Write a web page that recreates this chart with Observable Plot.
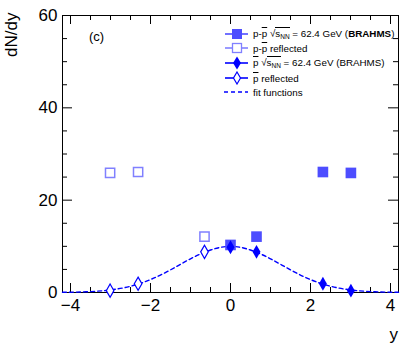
<!DOCTYPE html>
<html><head><meta charset="utf-8">
<script src="https://cdn.jsdelivr.net/npm/d3@7"></script>
<script src="https://cdn.jsdelivr.net/npm/@observablehq/plot@0.6"></script>
<style>
body{margin:0;background:#fff;}
#wrap{position:relative;width:411px;height:348px;font-family:"Liberation Sans",Arial,Helvetica,sans-serif;color:#000;overflow:hidden;}
#wrap svg.plot{position:absolute;left:0;top:0;}
.ov{text-decoration:overline;}
.rt{border-top:1px solid #000;padding-top:0px;}
.leg{position:absolute;left:224px;height:14px;display:flex;align-items:center;font-size:9.8px;white-space:nowrap;}
.leg svg{margin-right:4px;}
.ttl{position:absolute;font-size:17px;line-height:1;white-space:nowrap;}
sub{font-size:6.5px;vertical-align:-2px;}
</style></head><body><div id="wrap"></div>
<script>
// rapidity values
const yBrahms = [0, 0.65, 2.31, 3.01];
const yReflected = [-3.01, -2.31, -0.65];
// p - pbar net protons
const netP = [10.3, 12.1, 26.1, 25.9];
const netPRefl = [25.9, 26.1, 12.1];
// anti-protons
const pbar = [9.8, 8.8, 1.9, 0.4];
const pbarRefl = [0.4, 1.9, 8.8];
// fit function samples
const fitY = [-4.2, -4, -3.5, -3, -2.5, -2, -1.5, -1, -0.5, 0, 0.5, 1, 1.5, 2, 2.5, 3, 3.5, 4, 4.2];
const fitV = [0.04, 0.06, 0.2, 0.56, 1.35, 2.8, 4.9, 7.3, 9.2, 10, 9.2, 7.3, 4.9, 2.8, 1.35, 0.56, 0.2, 0.06, 0.04];
// ticks
const xMajor = [-4, -2, 0, 2, 4];
const xMinor = [-3.5, -3, -2.5, -1.5, -1, -0.5, 0.5, 1, 1.5, 2.5, 3, 3.5];
const yMajor = [0, 20, 40, 60];
const yMinor = [5, 10, 15, 25, 30, 35, 45, 50, 55];

const W = 411, H = 348, mL = 62, mR = 13, mT = 15, mB = 56;
const iW = W - mL - mR, iH = H - mT - mB;

const toRows = (xs, vs) => xs.map((x, i) => ({x, v: vs[i]}));
const cNetP = "#4d4dff", cNetPRefl = "#8080ff", cPbar = "#0000ff";

const chart = Plot.plot({
  width: W, height: H,
  marginLeft: mL, marginRight: mR, marginTop: mT, marginBottom: mB,
  style: {fontFamily: '"Liberation Sans", Arial, Helvetica, sans-serif', fontSize: "17px", color: "#000", background: "transparent"},
  x: {domain: [-4.2, 4.2]},
  y: {domain: [0, 60]},
  marks: [
    // bottom/top ticks
    Plot.tickX(xMajor, {x: d => d, insetTop: iH - 9, stroke: "#000"}),
    Plot.tickX(xMinor, {x: d => d, insetTop: iH - 5, stroke: "#000"}),
    Plot.tickX(xMajor, {x: d => d, insetBottom: iH - 9, stroke: "#000"}),
    Plot.tickX(xMinor, {x: d => d, insetBottom: iH - 5, stroke: "#000"}),
    // left/right ticks
    Plot.tickY(yMajor, {y: d => d, insetRight: iW - 10, stroke: "#000"}),
    Plot.tickY(yMinor, {y: d => d, insetRight: iW - 5, stroke: "#000"}),
    Plot.tickY(yMajor, {y: d => d, insetLeft: iW - 10, stroke: "#000"}),
    Plot.tickY(yMinor, {y: d => d, insetLeft: iW - 5, stroke: "#000"}),
    Plot.axisX({ticks: xMajor, tickSize: 0, tickPadding: 6, label: null, fontSize: 17}),
    Plot.axisY({ticks: yMajor, tickSize: 0, tickPadding: 5, label: null, fontSize: 17}),
    Plot.frame({stroke: "#000"}),
    // fit functions
    Plot.line(toRows(fitY, fitV), {x: "x", y: "v", stroke: cPbar, strokeWidth: 1.4, strokeDasharray: "4,3", curve: "natural"}),
    // net protons
    Plot.dot(toRows(yReflected, netPRefl), {x: "x", y: "v", symbol: "square", r: 5.2, stroke: cNetPRefl, strokeWidth: 1.5, fill: "none"}),
    Plot.dot(toRows(yBrahms, netP), {x: "x", y: "v", symbol: "square", r: 6, fill: cNetP, stroke: "none"}),
    // anti-protons
    Plot.dot(toRows(yReflected, pbarRefl), {x: "x", y: "v", symbol: "diamond", r: 4, stroke: cPbar, strokeWidth: 1.2, fill: "white"}),
    Plot.dot(toRows(yBrahms, pbar), {x: "x", y: "v", symbol: "diamond", r: 4.2, fill: cPbar, stroke: "none"})
  ]
});
chart.classList.add("plot");
const wrap = document.getElementById("wrap");
wrap.appendChild(chart);

function marker(kind, color) {
  let m = "";
  if (kind === "fsq") m = `<rect x="8" y="2" width="10" height="10" fill="${color}"/>`;
  if (kind === "osq") m = `<rect x="8.5" y="2.5" width="9" height="9" fill="white" stroke="${color}" stroke-width="1.3"/>`;
  if (kind === "fdi") m = `<path d="M13,0.5 L17,7 L13,13.5 L9,7Z" fill="${color}"/>`;
  if (kind === "odi") m = `<path d="M13,1 L16.5,7 L13,13 L9.5,7Z" fill="white" stroke="${color}" stroke-width="1.2"/>`;
  const line = kind === "dash"
    ? `<line x1="0" y1="7" x2="24" y2="7" stroke="${color}" stroke-width="1.4" stroke-dasharray="4,3"/>`
    : `<line x1="1" y1="7" x2="24" y2="7" stroke="${color}" stroke-width="1.6"/>`;
  return `<svg width="25" height="14" viewBox="0 0 25 14">${line}${m}</svg>`;
}
const rootS = `<span class="rt">s<sub>NN</sub></span>`;
const legendRows = [
  {c: 34, html: marker("fsq", cNetP) + `<span>p-<span class="ov">p</span> √${rootS} = 62.4 GeV (<b>BRAHMS</b>)</span>`},
  {c: 48, html: marker("osq", cNetPRefl) + `<span>p-<span class="ov">p</span> reflected</span>`},
  {c: 63, html: marker("fdi", cPbar) + `<span><span class="ov">p</span> √${rootS} = 62.4 GeV (BRAHMS)</span>`},
  {c: 78, html: marker("odi", cPbar) + `<span><span class="ov">p</span> reflected</span>`},
  {c: 92, html: marker("dash", cPbar) + `<span>fit functions</span>`}
];
for (const r of legendRows) {
  const d = document.createElement("div");
  d.className = "leg";
  d.style.top = (r.c - 7) + "px";
  d.innerHTML = r.html;
  wrap.appendChild(d);
}
function label(text, css) {
  const d = document.createElement("div");
  d.className = "ttl";
  d.textContent = text;
  Object.assign(d.style, css);
  wrap.appendChild(d);
  return d;
}
label("(c)", {left: "89px", top: "30px", fontSize: "13px"});
label("y", {right: "13px", top: "326px"});
label("dN/dy", {left: "3px", top: "57px", transform: "rotate(-90deg)", transformOrigin: "0 0"});
</script>
</body></html>
